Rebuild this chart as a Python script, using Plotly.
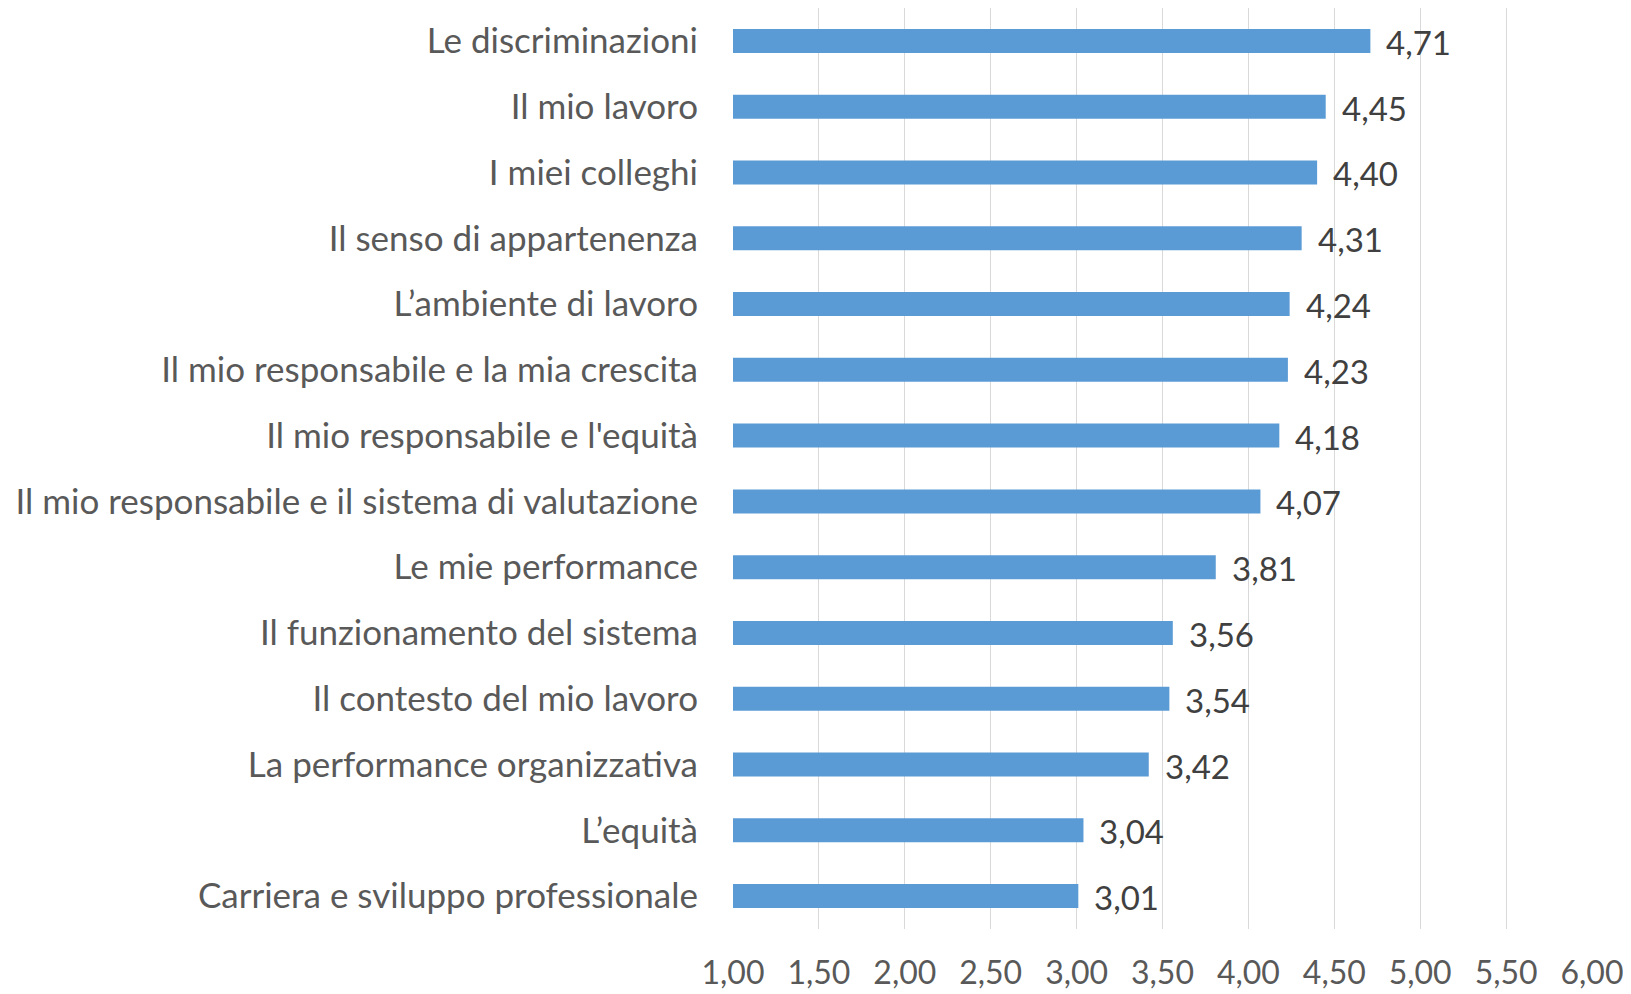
import plotly.graph_objects as go

categories = [
    "Le discriminazioni",
    "Il mio lavoro",
    "I miei colleghi",
    "Il senso di appartenenza",
    "L\u2019ambiente di lavoro",
    "Il mio responsabile e la mia crescita",
    "Il mio responsabile e l'equità",
    "Il mio responsabile e il sistema di valutazione",
    "Le mie performance",
    "Il funzionamento del sistema",
    "Il contesto del mio lavoro",
    "La performance organizzativa",
    "L\u2019equità",
    "Carriera e sviluppo professionale",
]
values = [4.71, 4.45, 4.40, 4.31, 4.24, 4.23, 4.18, 4.07, 3.81, 3.56, 3.54, 3.42, 3.04, 3.01]
x_ticks = [1.0, 1.5, 2.0, 2.5, 3.0, 3.5, 4.0, 4.5, 5.0, 5.5, 6.0]

FONT = "Lato"
labels = [f"{v:.2f}".replace(".", ",") for v in values]

fig = go.Figure()
fig.add_trace(go.Bar(
    y=categories,
    x=[v - 1.0 for v in values],
    base=1.0,
    orientation="h",
    marker=dict(color="#5B9BD5", line=dict(width=0)),
    hoverinfo="skip",
))

for c, v, t in zip(categories, values, labels):
    fig.add_annotation(x=v, y=c, text=t, showarrow=False, xanchor="left",
                       xshift=14, yshift=-1,
                       font=dict(family=FONT, size=33, color="#404040"))

# page body has an 8px margin, so the figure is sized to fit the window
fig.update_layout(
    width=1623, height=986,
    margin=dict(l=725, r=39, t=0, b=65, autoexpand=False),
    paper_bgcolor="white", plot_bgcolor="white",
    showlegend=False,
    bargap=0.635,
    separators=",.",
    font=dict(family=FONT, size=33, color="#595959"),
)
fig.update_xaxes(
    range=[1.0, 6.0],
    tickvals=x_ticks,
    tickformat=".2f",
    showgrid=True, gridcolor="#D9D9D9", gridwidth=1.3,
    zeroline=False, showline=False,
    ticks="", ticklabelstandoff=22, automargin=False,
    tickfont=dict(family=FONT, size=32, color="#595959"),
    fixedrange=True,
)
fig.update_yaxes(
    categoryorder="array",
    categoryarray=categories[::-1],
    showgrid=False, zeroline=False, showline=False,
    ticks="", ticklabelstandoff=34, automargin=False,
    tickfont=dict(family=FONT, size=35, color="#595959"),
    fixedrange=True,
)

fig.write_html("out.html", config={"displayModeBar": False})
